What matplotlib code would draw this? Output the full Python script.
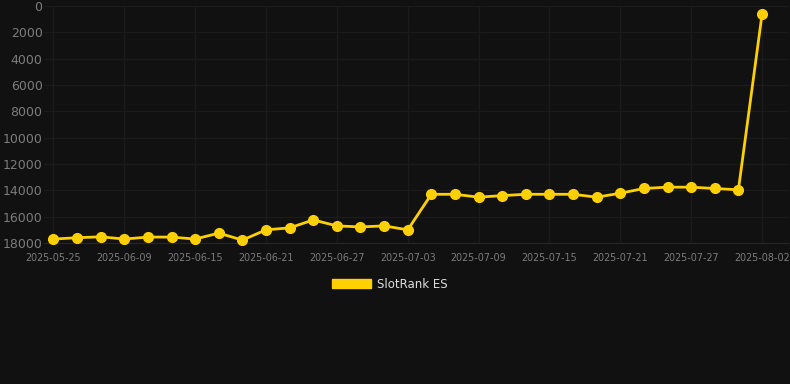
import matplotlib
matplotlib.use('Agg')
import matplotlib.pyplot as plt
from matplotlib.patches import Patch

# data (rank, lower is better)
dates = ['2025-05-25', '2025-06-05', '2025-06-07', '2025-06-09', '2025-06-11', '2025-06-13',
         '2025-06-15', '2025-06-17', '2025-06-19', '2025-06-21', '2025-06-23', '2025-06-25',
         '2025-06-27', '2025-06-29', '2025-07-01', '2025-07-03', '2025-07-05', '2025-07-07',
         '2025-07-09', '2025-07-11', '2025-07-13', '2025-07-15', '2025-07-17', '2025-07-19',
         '2025-07-21', '2025-07-23', '2025-07-25', '2025-07-27', '2025-07-29', '2025-07-31',
         '2025-08-02']
ranks = [17700, 17600, 17530, 17700, 17550, 17550, 17700, 17250, 17780, 17000, 16850, 16250,
         16700, 16780, 16700, 17000, 14300, 14300, 14520, 14400, 14300, 14300, 14300, 14520,
         14220, 13860, 13760, 13760, 13860, 13960, 640]
series_name = 'SlotRank ES'

bg = '#111111'
gold = '#FFD000'
grid_c = '#1b1b1b'
tick_c = '#7c7c7c'

fig = plt.figure(figsize=(7.9, 3.84), dpi=100, facecolor=bg)
ax = fig.add_axes([44/790, 1-243/384, (788-44)/790, (243-6)/384])
ax.set_facecolor(bg)

x = list(range(len(dates)))
ax.plot(x, ranks, color=gold, linewidth=2.0, marker='o', markersize=7,
        markerfacecolor=gold, markeredgecolor=gold, clip_on=False, zorder=3)

ax.set_ylim(18000, 0)
ax.set_yticks(range(0, 18001, 2000))
ax.set_xlim(-0.4, 31.1)
ax.set_xticks(x[::3])
ax.set_xticklabels(dates[::3])

ax.grid(True, color=grid_c, linewidth=1)
for s in ['top', 'right', 'left']:
    ax.spines[s].set_visible(False)
ax.spines['bottom'].set_color('#262626')
ax.tick_params(axis='y', colors=tick_c, labelsize=9, length=0, pad=1)
ax.tick_params(axis='x', colors=tick_c, labelsize=6.9, length=0, pad=7)

handle = Patch(facecolor=gold, edgecolor=gold)
leg = fig.legend([handle], [series_name], loc='center', bbox_to_anchor=(390/790, 1-284/384),
                 frameon=False, fontsize=8.5, handlelength=3.3, handleheight=0.9,
                 handletextpad=0.5, labelcolor='#dddddd')

fig.savefig('out.png', dpi=100, facecolor=bg)
